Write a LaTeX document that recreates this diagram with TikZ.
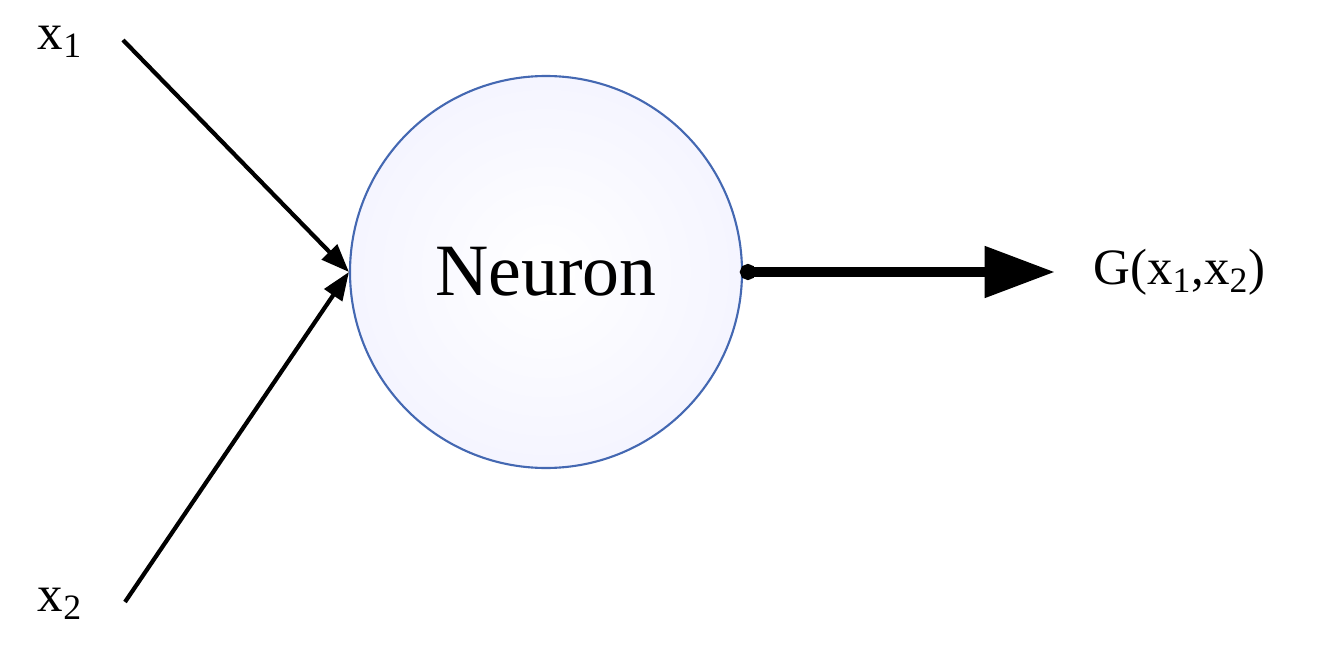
\documentclass[tikz,border=0pt]{standalone}
\usepackage{fontspec}
\setmainfont{Liberation Serif}
\usetikzlibrary{arrows.meta}
\definecolor{ringblue}{RGB}{68,104,178}
\begin{document}
\begin{tikzpicture}[x=0.02cm,y=-0.02cm,
  lbl/.style={font=\fontsize{29}{32}\selectfont, inner sep=0pt},
  inarrow/.style={line width=2.4pt, -{Triangle[length=16pt,width=12pt]}},
  outarrow/.style={line width=6pt, {Circle[length=9pt]}-{Triangle[length=40pt,width=28pt]}}]
  \useasboundingbox (0,0) rectangle (1318,655);
  % neuron
  \node[circle, draw=ringblue, line width=1.2pt, minimum size=392*0.02cm,
        inner color=white, outer color=blue!4,
        font=\fontsize{42}{46}\selectfont] (neuron) at (546,272) {Neuron};
  % inputs and output
  \node[lbl] (xa) at (60,42) {x\textsubscript{1}};
  \node[lbl] (xb) at (60,604) {x\textsubscript{2}};
  \node[lbl, anchor=west] (gout) at (1093,272) {G(x\textsubscript{1},x\textsubscript{2})};
  \coordinate (sa) at (123,40);
  \coordinate (sb) at (125,602);
  \coordinate (so) at (740,272);
  \coordinate (eo) at (1055,272);
  \draw[inarrow] (sa) -- (neuron.west);
  \draw[inarrow] (sb) -- (neuron.west);
  \draw[outarrow] (so) -- (eo);
\end{tikzpicture}
\end{document}
